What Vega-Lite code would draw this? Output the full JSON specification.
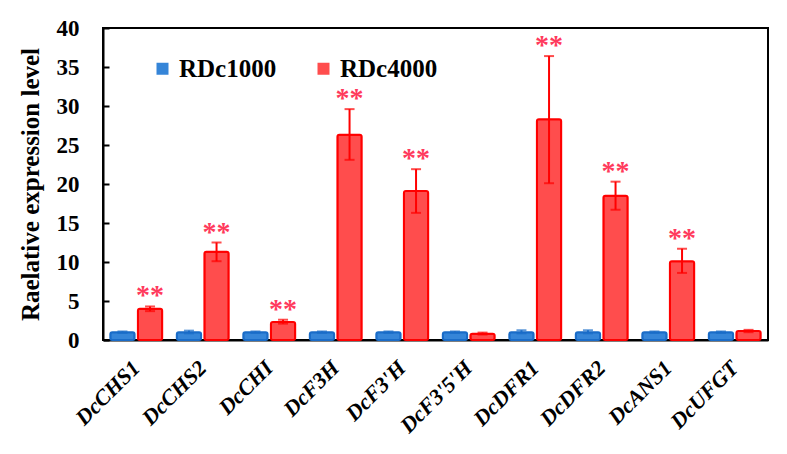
{
  "$schema": "https://vega.github.io/schema/vega-lite/v6.json",
  "width": 665,
  "height": 312,
  "autosize": {"type": "none"},
  "padding": {"left": 103, "top": 28, "right": 19, "bottom": 114},
  "background": "white",
  "config": {
    "view": {"stroke": "black", "strokeWidth": 2},
    "font": "Liberation Serif",
    "axisY": {
      "labelOverlap": false,
      "grid": false,
      "tickSize": -6,
      "tickWidth": 2,
      "tickColor": "black",
      "domainColor": "black",
      "domainWidth": 2,
      "labelFont": "Liberation Serif",
      "labelFontWeight": "bold",
      "labelFontSize": 23,
      "labelColor": "black",
      "labelPadding": 30,
      "titleFont": "Liberation Serif",
      "titleFontSize": 25,
      "titleFontWeight": "bold",
      "titleColor": "black",
      "titlePadding": 13
    }
  },
  "data": {
    "values": [
      {"gene": "DcCHS1", "group": "RDc1000", "value": 1.0, "lo": 0.9, "hi": 1.1, "sig": ""},
      {"gene": "DcCHS1", "group": "RDc4000", "value": 4.0, "lo": 3.7, "hi": 4.3, "sig": "**"},
      {"gene": "DcCHS2", "group": "RDc1000", "value": 1.0, "lo": 0.85, "hi": 1.2, "sig": ""},
      {"gene": "DcCHS2", "group": "RDc4000", "value": 11.3, "lo": 10.1, "hi": 12.5, "sig": "**"},
      {"gene": "DcCHI", "group": "RDc1000", "value": 1.0, "lo": 0.9, "hi": 1.1, "sig": ""},
      {"gene": "DcCHI", "group": "RDc4000", "value": 2.3, "lo": 2.1, "hi": 2.6, "sig": "**"},
      {"gene": "DcF3H", "group": "RDc1000", "value": 1.0, "lo": 0.9, "hi": 1.1, "sig": ""},
      {"gene": "DcF3H", "group": "RDc4000", "value": 26.3, "lo": 23.1, "hi": 29.6, "sig": "**"},
      {"gene": "DcF3'H", "group": "RDc1000", "value": 1.0, "lo": 0.9, "hi": 1.1, "sig": ""},
      {"gene": "DcF3'H", "group": "RDc4000", "value": 19.1, "lo": 16.3, "hi": 21.9, "sig": "**"},
      {"gene": "DcF3'5'H", "group": "RDc1000", "value": 1.0, "lo": 0.9, "hi": 1.1, "sig": ""},
      {"gene": "DcF3'5'H", "group": "RDc4000", "value": 0.8, "lo": 0.7, "hi": 0.95, "sig": ""},
      {"gene": "DcDFR1", "group": "RDc1000", "value": 1.0, "lo": 0.85, "hi": 1.25, "sig": ""},
      {"gene": "DcDFR1", "group": "RDc4000", "value": 28.3, "lo": 20.1, "hi": 36.4, "sig": "**"},
      {"gene": "DcDFR2", "group": "RDc1000", "value": 1.0, "lo": 0.85, "hi": 1.25, "sig": ""},
      {"gene": "DcDFR2", "group": "RDc4000", "value": 18.5, "lo": 16.7, "hi": 20.3, "sig": "**"},
      {"gene": "DcANS1", "group": "RDc1000", "value": 1.0, "lo": 0.9, "hi": 1.1, "sig": ""},
      {"gene": "DcANS1", "group": "RDc4000", "value": 10.1, "lo": 8.6, "hi": 11.7, "sig": "**"},
      {"gene": "DcUFGT", "group": "RDc1000", "value": 1.0, "lo": 0.9, "hi": 1.1, "sig": ""},
      {"gene": "DcUFGT", "group": "RDc4000", "value": 1.15, "lo": 1.0, "hi": 1.3, "sig": ""}
    ]
  },
  "encoding": {
    "x": {
      "field": "gene",
      "type": "nominal",
      "sort": null,
      "scale": {"paddingInner": 0.22, "paddingOuter": 0.11},
      "axis": {
        "title": null,
        "ticks": false,
        "domainColor": "black",
        "domainWidth": 2,
        "labelAngle": -45,
        "labelAlign": "right",
        "labelBaseline": "middle",
        "labelFont": "Liberation Serif",
        "labelFontStyle": "italic",
        "labelFontWeight": "bold",
        "labelFontSize": 22,
        "labelColor": "black",
        "labelPadding": 24
      }
    },
    "xOffset": {"field": "group", "type": "nominal", "scale": {"paddingInner": 0.12}}
  },
  "layer": [
    {
      "mark": {"type": "bar", "strokeWidth": 2, "cornerRadius": 2},
      "encoding": {
        "y": {
          "field": "value",
          "type": "quantitative",
          "scale": {"domain": [0, 40], "nice": false},
          "axis": {"values": [0, 5, 10, 15, 20, 25, 30, 35, 40], "title": "Raelative expression level"}
        },
        "fill": {
          "field": "group",
          "type": "nominal",
          "scale": {"domain": ["RDc1000", "RDc4000"], "range": ["#3585d8", "#ff4d4d"]},
          "legend": {
            "orient": "none",
            "direction": "horizontal",
            "legendX": 47,
            "legendY": 28,
            "title": null,
            "symbolType": "square",
            "symbolSize": 144,
            "symbolStrokeWidth": 0,
            "symbolOpacity": 1,
            "labelFont": "Liberation Serif",
            "labelFontWeight": "bold",
            "labelFontSize": 25,
            "labelColor": "black",
            "labelOffset": 4,
            "columnPadding": 34
          }
        },
        "stroke": {
          "field": "group",
          "type": "nominal",
          "scale": {"domain": ["RDc1000", "RDc4000"], "range": ["#1a6cc8", "#ff0000"]},
          "legend": null
        }
      }
    },
    {
      "mark": {"type": "rule", "strokeWidth": 2},
      "encoding": {
        "y": {"field": "lo", "type": "quantitative", "axis": {"values": [0, 5, 10, 15, 20, 25, 30, 35, 40], "title": "Raelative expression level"}},
        "y2": {"field": "hi"},
        "stroke": {"field": "group", "type": "nominal", "legend": null}
      }
    },
    {
      "mark": {"type": "tick", "thickness": 2, "size": 10},
      "encoding": {
        "y": {"field": "hi", "type": "quantitative", "axis": {"values": [0, 5, 10, 15, 20, 25, 30, 35, 40], "title": "Raelative expression level"}},
        "color": {
          "field": "group",
          "type": "nominal",
          "scale": {"domain": ["RDc1000", "RDc4000"], "range": ["#1a6cc8", "#ff0000"]},
          "legend": null
        }
      }
    },
    {
      "mark": {"type": "tick", "thickness": 2, "size": 10},
      "encoding": {
        "y": {"field": "lo", "type": "quantitative", "axis": {"values": [0, 5, 10, 15, 20, 25, 30, 35, 40], "title": "Raelative expression level"}},
        "color": {"field": "group", "type": "nominal", "legend": null}
      }
    },
    {
      "mark": {
        "type": "text",
        "font": "Liberation Serif",
        "fontWeight": "bold",
        "fontSize": 28,
        "baseline": "alphabetic",
        "align": "center",
        "dy": -2,
        "color": "#ff3a5c"
      },
      "encoding": {
        "y": {"field": "hi", "type": "quantitative", "axis": {"values": [0, 5, 10, 15, 20, 25, 30, 35, 40], "title": "Raelative expression level"}},
        "text": {"field": "sig"}
      }
    }
  ],
  "resolve": {"scale": {"y": "shared"}}
}
